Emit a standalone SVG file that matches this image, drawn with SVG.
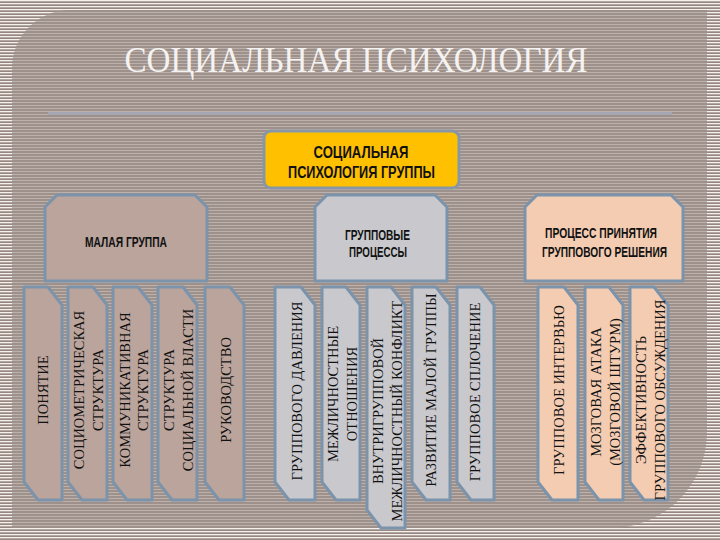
<svg xmlns="http://www.w3.org/2000/svg" width="720" height="540" viewBox="0 0 720 540">
<defs>
<pattern id="outer" width="6" height="3" patternUnits="userSpaceOnUse"><rect width="6" height="3" fill="#978780"/><rect width="6" height="1.3" fill="#f3f0ee"/></pattern>
<pattern id="inner" width="6" height="3" patternUnits="userSpaceOnUse"><rect width="6" height="3" fill="#9e908a"/><rect width="6" height="1" fill="#bdb1ab"/></pattern>
<style>
.col{stroke:#7b93ab;stroke-width:3;stroke-linejoin:round}
.g1{fill:#baa49c}.g2{fill:#c9c9cd}.g3{fill:#f3ccb1}
.vt{font-family:"Liberation Serif","Times New Roman",serif;font-size:14.5px;fill:#111;text-anchor:middle}
.hd{font-family:"Liberation Sans",Arial,sans-serif;font-weight:bold;fill:#111;text-anchor:middle}
</style>
</defs>
<rect width="720" height="540" fill="url(#outer)"/>
<path d="M12,528 V68 A58,58 0 0 1 70,10 H707 V432 A96,96 0 0 1 611,528 Z" fill="url(#inner)"/>
<rect x="48" y="112" width="624" height="3" fill="#a4a7b1"/>
<text x="356" y="72" font-family="'Liberation Serif','Times New Roman',serif" font-size="36" fill="#f5f3f1" text-anchor="middle" textLength="463" lengthAdjust="spacingAndGlyphs">СОЦИАЛЬНАЯ ПСИХОЛОГИЯ</text>

<g id="connectors"/>

<g id="root">
<rect x="264" y="131" width="195" height="57" rx="7" fill="#ffc000" stroke="#8797a8" stroke-width="3"/>
<text class="hd" x="361" y="158" font-size="17" textLength="95" lengthAdjust="spacingAndGlyphs">СОЦИАЛЬНАЯ</text>
<text class="hd" x="361.5" y="178" font-size="17" textLength="147" lengthAdjust="spacingAndGlyphs">ПСИХОЛОГИЯ ГРУППЫ</text>
</g>

<g id="small-group">
<path class="col g1" d="M57,195 H195 L207,207 V281 H45 V207 Z"/>
<text class="hd" x="126" y="247" font-size="14" textLength="82" lengthAdjust="spacingAndGlyphs">МАЛАЯ ГРУППА</text>
</g>
<g id="group-processes">
<path class="col g2" d="M327,195 H435 L447,207 V281 H315 V207 Z"/>
<text class="hd" x="377.5" y="240" font-size="14" textLength="65" lengthAdjust="spacingAndGlyphs">ГРУППОВЫЕ</text>
<text class="hd" x="378" y="257" font-size="14" textLength="58" lengthAdjust="spacingAndGlyphs">ПРОЦЕССЫ</text>
</g>
<g id="decision">
<path class="col g3" d="M537,195 H671 L683,207 V281 H525 V207 Z"/>
<text class="hd" x="601" y="238" font-size="14" textLength="112" lengthAdjust="spacingAndGlyphs">ПРОЦЕСС ПРИНЯТИЯ</text>
<text class="hd" x="604.5" y="257" font-size="14" textLength="125" lengthAdjust="spacingAndGlyphs">ГРУППОВОГО РЕШЕНИЯ</text>
</g>

<g id="ponyatie">
<path class="col g1" d="M24,287 H48 L62,305 V500 H38 L24,482 Z"/>
<text class="vt" transform="translate(43,390) rotate(-90)" y="5">ПОНЯТИЕ</text>
</g>
<g id="sociometric">
<path class="col g1" d="M68,287 H93 L107,305 V500 H82 L68,482 Z"/>
<text class="vt" transform="translate(87.5,390) rotate(-90)"><tspan x="0" y="-4">СОЦИОМЕТРИЧЕСКАЯ</tspan><tspan x="0" y="15">СТРУКТУРА</tspan></text>
</g>
<g id="communicative">
<path class="col g1" d="M113,287 H138 L152,305 V500 H127 L113,482 Z"/>
<text class="vt" transform="translate(132.5,390) rotate(-90)"><tspan x="0" y="-3">КОММУНИКАТИВНАЯ</tspan><tspan x="0" y="15.5">СТРУКТУРА</tspan></text>
</g>
<g id="power">
<path class="col g1" d="M158,287 H183 L197,305 V500 H172 L158,482 Z"/>
<text class="vt" transform="translate(177.5,390) rotate(-90)"><tspan x="0" y="-4">СТРУКТУРА</tspan><tspan x="0" y="15">СОЦИАЛЬНОЙ ВЛАСТИ</tspan></text>
</g>
<g id="leadership">
<path class="col g1" d="M205,287 H230 L244,305 V500 H219 L205,482 Z"/>
<text class="vt" transform="translate(224.5,390) rotate(-90)" y="6">РУКОВОДСТВО</text>
</g>

<g id="pressure">
<path class="col g2" d="M275,287 H301 L315,305 V500 H289 L275,482 Z"/>
<text class="vt" transform="translate(295,391) rotate(-90)" y="7">ГРУППОВОГО ДАВЛЕНИЯ</text>
</g>
<g id="interpersonal">
<path class="col g2" d="M322,287 H346 L360,305 V500 H336 L322,482 Z"/>
<text class="vt" transform="translate(341,394) rotate(-90)"><tspan x="0" y="-3">МЕЖЛИЧНОСТНЫЕ</tspan><tspan x="0" y="16">ОТНОШЕНИЯ</tspan></text>
</g>
<g id="conflict">
<path class="col g2" d="M367,287 H391 L405,305 V528 H381 L367,510 Z"/>
<text class="vt" transform="translate(386,411) rotate(-90)"><tspan x="0" y="-3">ВНУТРИГРУППОВОЙ</tspan><tspan x="0" y="16">МЕЖЛИЧНОСТНЫЙ КОНФЛИКТ</tspan></text>
</g>
<g id="development">
<path class="col g2" d="M412,287 H436 L450,305 V500 H426 L412,482 Z"/>
<text class="vt" transform="translate(431,390) rotate(-90)" y="4.5">РАЗВИТИЕ МАЛОЙ ГРУППЫ</text>
</g>
<g id="cohesion">
<path class="col g2" d="M457,287 H480 L494,305 V500 H471 L457,482 Z"/>
<text class="vt" transform="translate(475.5,392) rotate(-90)" y="4.5">ГРУППОВОЕ СПЛОЧЕНИЕ</text>
</g>

<g id="interview">
<path class="col g3" d="M538,287 H564 L578,305 V500 H552 L538,482 Z"/>
<text class="vt" transform="translate(558,390) rotate(-90)" y="6">ГРУППОВОЕ ИНТЕРВЬЮ</text>
</g>
<g id="brainstorm">
<path class="col g3" d="M585,287 H609 L623,305 V500 H599 L585,482 Z"/>
<text class="vt" transform="translate(604,392) rotate(-90)"><tspan x="0" y="-3">МОЗГОВАЯ АТАКА</tspan><tspan x="0" y="16">(МОЗГОВОЙ ШТУРМ)</tspan></text>
</g>
<g id="effectiveness">
<path class="col g3" d="M630,287 H654 L668,305 V500 H644 L630,482 Z"/>
<text class="vt" transform="translate(649,400) rotate(-90)"><tspan x="0" y="-3">ЭФФЕКТИВНОСТЬ</tspan><tspan x="0" y="16">ГРУППОВОГО ОБСУЖДЕНИЯ</tspan></text>
</g>
</svg>
